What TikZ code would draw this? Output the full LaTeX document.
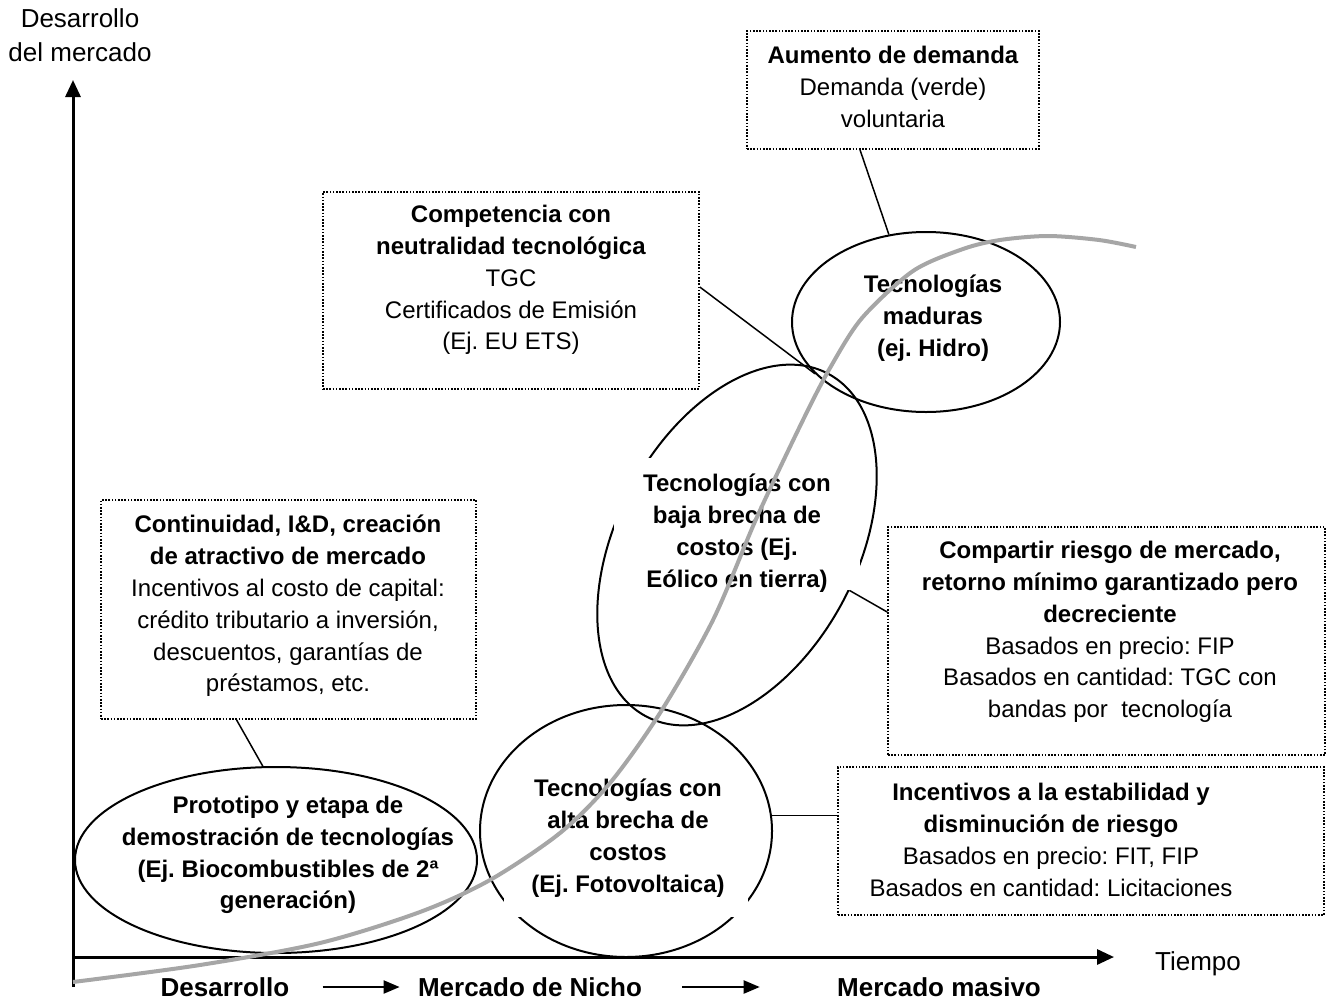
\documentclass[tikz,border=0pt]{standalone}
\usepackage{fontspec}
\setmainfont{Liberation Sans}
\usetikzlibrary{arrows.meta,shapes.geometric}
\definecolor{curvegray}{RGB}{166,166,166}
\frenchspacing
\begin{document}
\begin{tikzpicture}[x=0.5pt,y=-0.5pt,
  ell/.style={draw=black,line width=1pt,shape=ellipse,inner sep=0pt},
  dotbox/.style={draw=black,line width=0.8pt,dash pattern=on 0.8pt off 0.8pt,inner sep=0pt},
  txtA/.style={align=center,inner sep=0pt,font=\fontsize{12pt}{15.9pt}\selectfont\frenchspacing},
  ellt/.style={align=center,inner sep=0pt,font=\fontsize{12pt}{15.9pt}\selectfont\bfseries\frenchspacing},
  axlab/.style={align=center,inner sep=0pt,font=\fontsize{13pt}{17pt}\selectfont},
  axbold/.style={inner sep=0pt,font=\fontsize{13pt}{17pt}\selectfont\bfseries},
  conn/.style={draw=black,line width=0.75pt},
  axis/.style={draw=black,line width=1.5pt,-{Triangle[width=7.5pt,length=8.5pt]}},
  stagearrow/.style={draw=black,line width=1pt,-{Triangle[width=6.5pt,length=8pt]}}
]
\useasboundingbox (0,0) rectangle (1327,1001);

% ellipses (with the white text areas that cut them)
\node[ell,minimum width=201pt,minimum height=93pt] (proto) at (276,860) {};
\node[ell,minimum width=146pt,minimum height=126pt] (foto) at (626,831) {};
\fill[white] (504,766) rectangle (748,917);
\node[ell,minimum width=120pt,minimum height=194pt,rotate=-28] (eol) at (737,545) {};
\fill[white] (614,458) rectangle (860,590);
\node[ell,minimum width=134pt,minimum height=90pt] (mad) at (926,322) {};

% ellipse texts
\node[ellt] (tproto) at (288,855) {Prototipo y etapa de\\demostración de tecnologías\\(Ej. Biocombustibles de 2ª\\generación)};
\node[ellt] (tfoto) at (628,838) {Tecnologías con\\alta brecha de\\costos\\(Ej. Fotovoltaica)};
\node[ellt] (teol) at (737,533) {Tecnologías con\\baja brecha de\\costos (Ej.\\Eólico en tierra)};
\node[ellt] (tmad) at (933,318) {Tecnologías\\maduras\\(ej. Hidro)};

% dotted boxes
\node[dotbox,minimum width=146pt,minimum height=59pt] (aum) at (893,90) {};
\node[dotbox,minimum width=188pt,minimum height=98.5pt] (comp) at (511,290.5) {};
\node[dotbox,minimum width=187.5pt,minimum height=109.5pt] (cont) at (288.5,609.5) {};
\node[dotbox,minimum width=218.5pt,minimum height=114pt] (compa) at (1106.5,641) {};
\node[dotbox,minimum width=243pt,minimum height=74pt] (inc) at (1081,841) {};

% box texts
\node[txtA] (taum) at (893,87) {\textbf{Aumento de demanda}\\Demanda (verde)\\voluntaria};
\node[txtA] (tcomp) at (511,280) {\textbf{Competencia con}\\\textbf{neutralidad tecnológica}\\TGC\\Certificados de Emisión\\(Ej. EU ETS)};
\node[txtA] (tcont) at (288,606) {\textbf{Continuidad, I\&D, creación}\\\textbf{de atractivo de mercado}\\Incentivos al costo de capital:\\crédito tributario a inversión,\\descuentos, garantías de\\préstamos, etc.};
\node[txtA] (tcompa) at (1110,632) {\textbf{Compartir riesgo de mercado,}\\\textbf{retorno mínimo garantizado pero}\\\textbf{decreciente}\\Basados en precio: FIP\\Basados en cantidad: TGC con\\bandas por\ \ tecnología};
\node[txtA] (tinc) at (1051,840) {\textbf{Incentivos a la estabilidad y}\\\textbf{disminución de riesgo}\\Basados en precio: FIT, FIP\\Basados en cantidad: Licitaciones};

% connectors
\draw[conn] ([xshift=-16.5pt]aum.south) -- (mad.113);
\draw[conn] ([yshift=1.75pt]comp.east) -- (mad.205);
\draw[conn] ([xshift=-26pt]cont.south) -- (proto.98);
\draw[conn] ([yshift=14.5pt]compa.west) -- (eol.6);
\draw[conn] (inc.west |- foto.6) -- (foto.6);

% axes
\coordinate (ybot) at (73,987);
\coordinate (ytop) at (73,80);
\coordinate (xleft) at (72,957);
\coordinate (xright) at (1114,957);
\draw[axis] (ybot) -- (ytop);
\draw[axis] (xleft) -- (xright);

\node[axlab] (ylab) at (80,35) {Desarrollo\\del mercado};
\node[axlab] (tiempo) at (1198,964) {Tiempo};

\node[axbold] (dev) at (225,987) {Desarrollo};
\node[axbold] (nicho) at (530,987) {Mercado de Nicho};
\node[axbold] (masivo) at (939,987) {Mercado masivo};
\draw[stagearrow,shorten <=16.5pt,shorten >=9pt] (dev.east) -- (nicho.west);
\draw[stagearrow,shorten <=20pt,shorten >=38.5pt] (nicho.east) -- (masivo.west);

% market development curve
\draw[curvegray,line width=2pt] plot[smooth,tension=0.5] coordinates {
 (73,982) (200,965) (320,943) (420,912) (490,880) (560,833) (610,783)
 (660,713) (713,620) (757,517) (803,420) (830,368) (862,318)
 (913,271) (963,249) (1000,240) (1048,236) (1099,240) (1136,247)};
\end{tikzpicture}
\end{document}
